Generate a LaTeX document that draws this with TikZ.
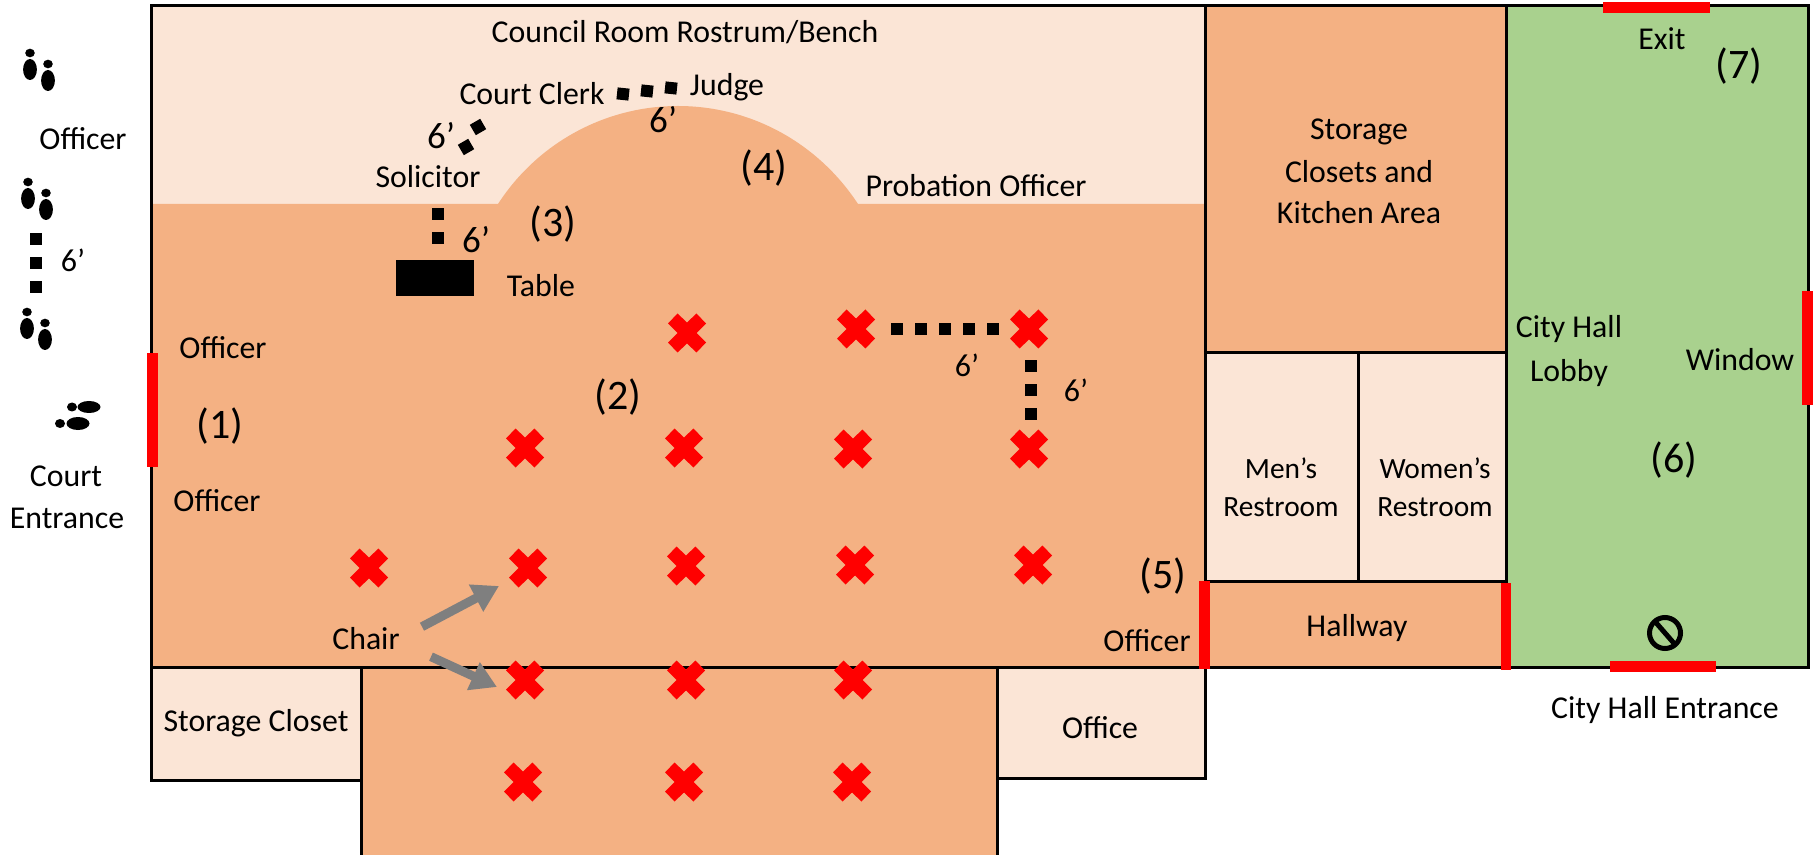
\documentclass[tikz,border=0pt]{standalone}
\usepackage{fontspec}
\setmainfont{Carlito}
\usetikzlibrary{arrows.meta}
\definecolor{roomlight}{HTML}{FBE5D6}
\definecolor{roomorange}{HTML}{F4B183}
\definecolor{lobbygreen}{HTML}{A9D18E}
\definecolor{arrowgray}{HTML}{7F7F7F}
\tikzset{
  x=0.5pt,y=-0.5pt,
  wall/.style={draw=black,line width=1.5pt},
  lab/.style={anchor=base,inner sep=0pt,align=center,font=\fontsize{15.9}{18}\selectfont},
  rest/.style={anchor=base,inner sep=0pt,align=center,font=\fontsize{14.7}{17}\selectfont},
  num/.style={anchor=base,inner sep=0pt,font=\fontsize{21}{24}\selectfont},
  six/.style={anchor=base,inner sep=0pt,font=\fontsize{16}{18}\selectfont},
  bigsix/.style={anchor=base,inner sep=0pt,font=\fontsize{18.5}{20}\selectfont},
  dotmark/.style={fill=black,inner sep=0pt,minimum size=6pt,shape=rectangle},
  door/.style={fill=red,draw=none},
  blockarrow/.style={draw=arrowgray,line width=4.5pt,-{Triangle[length=13pt,width=14.5pt]}},
  pics/redx/.style={code={\fill[red] (0,-10.5)--(9.5,-19.5)--(19,-9.5)--(9.5,0)--(19,9.5)--(9.5,19.5)--(0,10.5)--(-9.5,19.5)--(-19,9.5)--(-9.5,0)--(-19,-9.5)--(-9.5,-19.5)--cycle;}},
  pics/shoes/.style={code={
    \fill (0,0) ellipse [x radius=4.8,y radius=4.3];
    \fill (0,16.5) ellipse [x radius=6.9,y radius=10.5];
    \fill (18,11) ellipse [x radius=4.8,y radius=4.3];
    \fill (18,27.5) ellipse [x radius=6.9,y radius=10.5];
  }}
}
\begin{document}
\begin{tikzpicture}
\useasboundingbox (0,0) rectangle (1814,855);
% floor fills
\fill[roomlight] (151,6) rectangle (1205,204);
\fill[roomorange] (151,204) -- (498,204) .. controls (537.5,143) and (605,106) .. (678,106)
  .. controls (751,106) and (818,143) .. (858,204) -- (1205,204) -- (1205,667) -- (151,667) -- cycle;
% walls of the court room
\draw[wall] (151,667) -- (151,6) -- (1205,6) -- (1205,667);
\draw[wall,fill=roomlight] (151,667) rectangle (361,780);
\draw[wall,fill=roomlight] (997,667) rectangle (1205,778);
\draw[wall,fill=roomorange] (361,855) -- (361,667) -- (997,667) -- (997,855);
\draw[wall] (151,667) -- (1205,667);
% east rooms
\draw[wall,fill=roomorange] (1205,6) rectangle (1506,353);
\draw[wall,fill=roomlight] (1205,353) rectangle (1358,581);
\draw[wall,fill=roomlight] (1358,353) rectangle (1506,581);
\draw[wall,fill=roomorange] (1205,581) rectangle (1506,667);
\draw[wall,fill=lobbygreen] (1506,6) rectangle (1808,667);
% doors and windows
\fill[door] (147,353) rectangle (158,467);
\fill[door] (1199,581) rectangle (1210,669);
\fill[door] (1501,583) rectangle (1511,670);
\fill[door] (1610,661) rectangle (1716,672);
\fill[door] (1603,2) rectangle (1710,13);
\fill[door] (1802,291) rectangle (1813,405);
% table
\fill[black] (396,260) rectangle (474,296);
% six-foot markers
\foreach \px/\py/\ang [count=\i] in {36/239/0,36/263/0,36/287/0,438/214/0,438/238/0,478/127/30,466/147/30,623/94/-6,647/91/-6,671/88/-6,897/329/0,921/329/0,945/329/0,969/329/0,993/329/0,1031/366/0,1031/390/0,1031/414/0}
  \node[dotmark,rotate=\ang] (dot\i) at (\px,\py) {};
% chairs
\foreach \px/\py in {687/333,856/329,1029/329,525/448,684/448,853/449,1029/449,369/568,528/568,686/566,855/565,1033/565,525/680,686/680,853/680,523/782,684/782,852/782}
  \pic at (\px,\py) {redx};
% chair arrows
\coordinate (armA) at (422,626.7);
\coordinate (armAend) at (499,586);
\coordinate (armB) at (431,656.7);
\coordinate (armBend) at (497,687);
\draw[blockarrow] (armA) -- (armAend);
\draw[blockarrow] (armB) -- (armBend);
% footprints
\pic at (30,53) {shoes};
\pic at (28,182) {shoes};
\pic at (27,312) {shoes};
\fill (89,407) ellipse [x radius=11.5,y radius=6];
\fill (72,407) ellipse [x radius=5,y radius=4.5];
\fill (78,423.5) ellipse [x radius=11.5,y radius=6.5];
\fill (60,423.5) ellipse [x radius=5,y radius=4.5];
% no-entry sign
\draw[line width=2.5pt] (1665,633) circle [radius=15.5];
\draw[line width=2.5pt] (1655,621.5) -- (1675,644.5);
% labels
\node[lab] (council) at (685,43) {Council Room Rostrum/Bench};
\node[lab] (clerk) at (532,105) {Court Clerk};
\node[lab] (judge) at (727,96) {Judge};
\node[lab] (solicitor) at (428,188) {Solicitor};
\node[lab] (probation) at (976,197) {Probation Officer};
\node[lab] (table) at (541,297) {Table};
\node[lab] (offtop) at (83,150) {Officer};
\node[lab] (offa) at (223,358) {Officer};
\node[lab] (offb) at (217,511) {Officer};
\node[lab] (offc) at (1147,651) {Officer};
\node[lab] (court) at (66,486) {Court};
\node[lab] (entrance) at (67,528) {Entrance};
\node[lab] (chair) at (366,649) {Chair};
\node[lab] (closet) at (256,731) {Storage Closet};
\node[lab] (office) at (1100,738) {Office};
\node[lab] (hallway) at (1357,636) {Hallway};
\node[lab] (chentr) at (1665,718) {City Hall Entrance};
\node[rest] (men) at (1281,478) {Men’s};
\node[rest] (menb) at (1281,516) {Restroom};
\node[rest] (women) at (1435,478) {Women’s};
\node[rest] (womenb) at (1435,516) {Restroom};
\node[lab] (stora) at (1359,140) {Storage};
\node[lab] (storb) at (1359,183) {Closets and};
\node[lab] (storc) at (1359,224) {Kitchen Area};
\node[lab] (exit) at (1662,50) {Exit};
\node[lab] (cityh) at (1569,338) {City Hall};
\node[lab] (lobby) at (1569,381) {Lobby};
\node[lab] (window) at (1740,371) {Window};
\node[num] (n1) at (220,438) {(1)};
\node[num] (n2) at (618,409) {(2)};
\node[num] (n3) at (553,237) {(3)};
\node[num] (n4) at (764,181) {(4)};
\node[num] (n5) at (1163,588) {(5)};
\node[num] (n6) at (1674,473) {(6)};
\node[num] (n7) at (1739,79) {(7)};
\node[bigsix] (sa) at (441,149) {6’};
\node[bigsix] (sb) at (476,253) {6’};
\node[bigsix] (sc) at (663,133) {6’};
\node[six] (sd) at (73,272) {6’};
\node[six] (se) at (967,377) {6’};
\node[six] (sf) at (1076,401) {6’};
\end{tikzpicture}
\end{document}
